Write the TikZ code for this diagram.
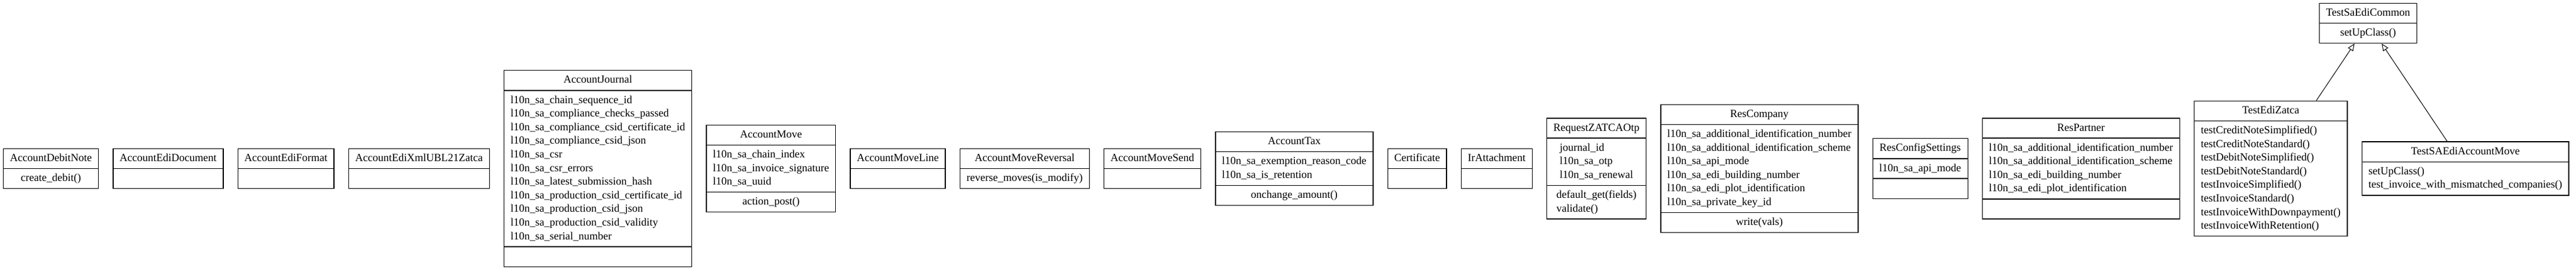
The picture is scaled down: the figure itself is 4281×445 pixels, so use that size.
\documentclass[tikz,border=0pt]{standalone}
\usepackage{fontspec}
\setmainfont{Liberation Serif}
\usetikzlibrary{shapes.multipart,positioning,calc,arrows.meta}
\newcommand{\umlfont}{\fontsize{18}{22.6}\selectfont}
\newcommand{\rows}[1]{\begin{tabular}{@{}l@{}}#1\end{tabular}}
\tikzset{
  umlclass/.style={draw, line width=1.3pt, rectangle split, rectangle split parts=#1,
    rectangle split part align=center, rectangle split empty part height=15.8pt,
    rectangle split empty part depth=6.8pt, inner xsep=11pt, inner ysep=4.6pt, font=\umlfont},
  umlclass/.default=3,
  inherit/.style={line width=1pt, -{Triangle[open,length=12pt,width=10pt]}}
}
\begin{document}
\begin{tikzpicture}[x=1pt,y=1pt]%[y=1cm,x=1cm]
	\useasboundingbox (0,0) rectangle (4281,445);
	\node[umlclass=2, anchor=west] (debitnote) at (5,165.5)
		{\rows{AccountDebitNote}\nodepart{two}\rows{create\_debit()}};
	\node[umlclass=2, right=23pt of debitnote] (edidoc)
		{\rows{AccountEdiDocument}\nodepart{two}};
	\node[umlclass=2, right=23pt of edidoc] (ediformat)
		{\rows{AccountEdiFormat}\nodepart{two}};
	\node[umlclass=2, right=23pt of ediformat] (ediubl)
		{\rows{AccountEdiXmlUBL21Zatca}\nodepart{two}};
	\node[umlclass, right=23pt of ediubl] (journal)
		{\rows{AccountJournal}\nodepart{two}\rows{l10n\_sa\_chain\_sequence\_id\\
			l10n\_sa\_compliance\_checks\_passed\\
			l10n\_sa\_compliance\_csid\_certificate\_id\\
			l10n\_sa\_compliance\_csid\_json\\
			l10n\_sa\_csr\\
			l10n\_sa\_csr\_errors\\
			l10n\_sa\_latest\_submission\_hash\\
			l10n\_sa\_production\_csid\_certificate\_id\\
			l10n\_sa\_production\_csid\_json\\
			l10n\_sa\_production\_csid\_validity\\
			l10n\_sa\_serial\_number}\nodepart{three}};
	\node[umlclass, right=23pt of journal] (move)
		{\rows{AccountMove}\nodepart{two}\rows{l10n\_sa\_chain\_index\\
			l10n\_sa\_invoice\_signature\\
			l10n\_sa\_uuid}\nodepart{three}\rows{action\_post()}};
	\node[umlclass=2, right=23pt of move] (moveline)
		{\rows{AccountMoveLine}\nodepart{two}};
	\node[umlclass=2, right=23pt of moveline] (movereversal)
		{\rows{AccountMoveReversal}\nodepart{two}\rows{reverse\_moves(is\_modify)}};
	\node[umlclass=2, right=23pt of movereversal] (movesend)
		{\rows{AccountMoveSend}\nodepart{two}};
	\node[umlclass, right=23pt of movesend] (tax)
		{\rows{AccountTax}\nodepart{two}\rows{l10n\_sa\_exemption\_reason\_code\\
			l10n\_sa\_is\_retention}\nodepart{three}\rows{onchange\_amount()}};
	\node[umlclass=2, right=23pt of tax] (certificate)
		{\rows{Certificate}\nodepart{two}};
	\node[umlclass=2, right=23pt of certificate] (attachment)
		{\rows{IrAttachment}\nodepart{two}};
	\node[umlclass, right=23pt of attachment] (otp)
		{\rows{RequestZATCAOtp}\nodepart{two}\rows{journal\_id\\
			l10n\_sa\_otp\\
			l10n\_sa\_renewal}\nodepart{three}\rows{default\_get(fields)\\
			validate()}};
	\node[umlclass, right=23pt of otp] (company)
		{\rows{ResCompany}\nodepart{two}\rows{l10n\_sa\_additional\_identification\_number\\
			l10n\_sa\_additional\_identification\_scheme\\
			l10n\_sa\_api\_mode\\
			l10n\_sa\_edi\_building\_number\\
			l10n\_sa\_edi\_plot\_identification\\
			l10n\_sa\_private\_key\_id}\nodepart{three}\rows{write(vals)}};
	\node[umlclass, right=23pt of company] (config)
		{\rows{ResConfigSettings}\nodepart{two}\rows{l10n\_sa\_api\_mode}\nodepart{three}};
	\node[umlclass, right=23pt of config] (partner)
		{\rows{ResPartner}\nodepart{two}\rows{l10n\_sa\_additional\_identification\_number\\
			l10n\_sa\_additional\_identification\_scheme\\
			l10n\_sa\_edi\_building\_number\\
			l10n\_sa\_edi\_plot\_identification}\nodepart{three}};
	\node[umlclass=2, right=23pt of partner] (zatca)
		{\rows{TestEdiZatca}\nodepart{two}\rows{testCreditNoteSimplified()\\
			testCreditNoteStandard()\\
			testDebitNoteSimplified()\\
			testDebitNoteStandard()\\
			testInvoiceSimplified()\\
			testInvoiceStandard()\\
			testInvoiceWithDownpayment()\\
			testInvoiceWithRetention()}};
	\node[umlclass=2, right=23pt of zatca] (accmove)
		{\rows{TestSAEdiAccountMove}\nodepart{two}\rows{setUpClass()\\
			test\_invoice\_with\_mismatched\_companies()}};
	\node[umlclass=2] (common) at ($(zatca)!.5!(accmove)+(0,241)$)
		{\rows{TestSaEdiCommon}\nodepart{two}\rows{setUpClass()}};
	\draw[inherit] (zatca) -- (common);
	\draw[inherit] (accmove) -- (common);
\end{tikzpicture}
\end{document}
